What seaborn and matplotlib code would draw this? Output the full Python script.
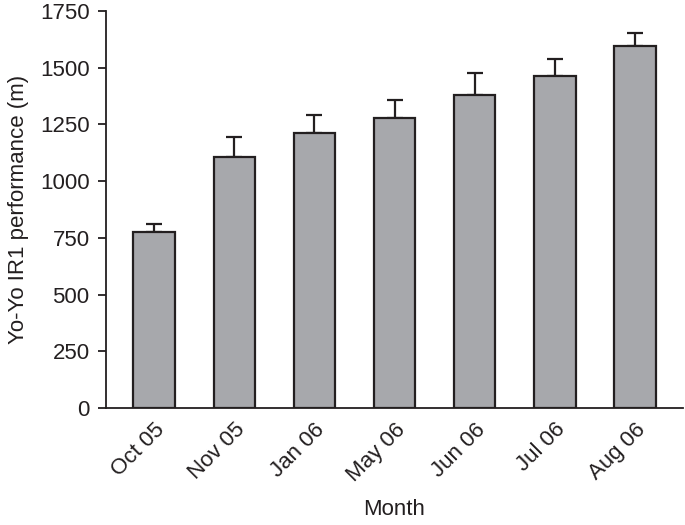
import matplotlib
matplotlib.use("Agg")
import matplotlib.pyplot as plt
import seaborn as sns
import pandas as pd
import numpy as np

months = ["Oct 05", "Nov 05", "Jan 06", "May 06", "Jun 06", "Jul 06", "Aug 06"]
performance = [777, 1107, 1212, 1278, 1378, 1462, 1597]
sd_upper = [33, 88, 80, 80, 98, 76, 54]

df = pd.DataFrame({"Month": months, "Performance": performance})

sns.set_style("ticks")
plt.rcParams["font.family"] = ["Liberation Sans", "DejaVu Sans"]

fig = plt.figure(figsize=(6.85, 5.25), dpi=100)
ax = fig.add_axes([0.155, 0.223, 0.842, 0.756])

sns.barplot(data=df, x="Month", y="Performance", color="#a7a8ac",
            edgecolor="#231f20", linewidth=1.6, width=0.52, saturation=1,
            errorbar=None, ax=ax)
ax.errorbar(np.arange(len(months)), performance,
            yerr=[np.zeros(len(months)), sd_upper], fmt="none",
            ecolor="#231f20", elinewidth=1.6, capsize=6, capthick=1.6, zorder=0)

ax.set_ylim(0, 1750)
ax.set_xlim(-0.6, len(months) - 0.4)
ax.set_yticks(range(0, 1751, 250))
ax.set_ylabel("Yo-Yo IR1 performance (m)", fontsize=16, color="#231f20", labelpad=8)
ax.set_xlabel("Month", fontsize=16, color="#231f20", labelpad=10)
ax.tick_params(axis="y", labelsize=16, length=6, width=1.3, pad=6, colors="#231f20")
ax.tick_params(axis="x", labelsize=16, length=0, pad=8, colors="#231f20")
plt.setp(ax.get_xticklabels(), rotation=45, ha="right", rotation_mode="anchor")
sns.despine(ax=ax)
for s in ["left", "bottom"]:
    ax.spines[s].set_linewidth(1.3)
    ax.spines[s].set_color("#231f20")

fig.savefig("out.png", dpi=100)
